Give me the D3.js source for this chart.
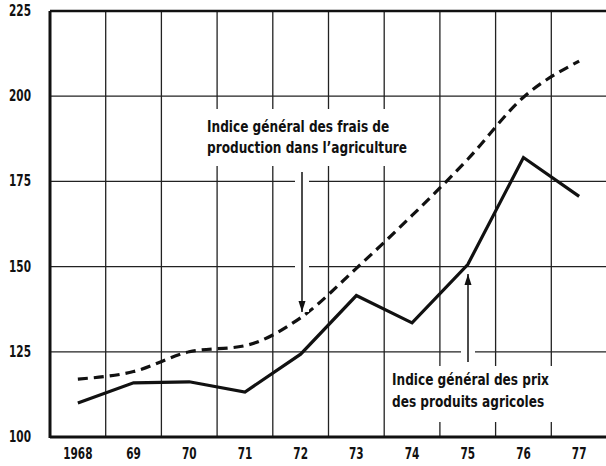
<!DOCTYPE html>
<html>
<head>
<meta charset="utf-8">
<script src="https://cdn.jsdelivr.net/npm/d3@7"></script>
<style>
  body { margin: 0; background: #fff; }
  svg text { font-family: "DejaVu Sans Condensed", "DejaVu Sans", sans-serif; font-weight: bold; fill: #111; }
</style>
</head>
<body>
<svg id="chart" width="606" height="466"></svg>
<script>
// years on the x axis
const years = ["1968", "69", "70", "71", "72", "73", "74", "75", "76", "77"];
// indice general des frais de production (dashed)
const frais = [117, 119.2, 125, 126.8, 135, 149.5, 165, 181.5, 199.7, 210.3];
// indice general des prix des produits agricoles (solid)
const prix = [110, 115.9, 116.2, 113.2, 124.3, 141.5, 133.5, 150.6, 182, 170.6];
const yTicks = [100, 125, 150, 175, 200, 225];

const svg = d3.select("#chart");
const plotL = 50, plotR = 607, plotT = 11, plotB = 437;

const x = d3.scaleBand().domain(years).range([plotL, plotR]).padding(0);
const y = d3.scaleLinear().domain([100, 225]).range([plotB, plotT]);
const cx = d => x(d) + x.bandwidth() / 2;

// grid
const grid = svg.append("g").attr("stroke", "#222").attr("stroke-width", 1.3);
grid.selectAll(".hg").data(yTicks.filter(t => t > 100 && t < 225)).join("line")
  .attr("x1", plotL).attr("x2", plotR).attr("y1", d => y(d)).attr("y2", d => y(d));
grid.selectAll(".vg").data(years.slice(1)).join("line")
  .attr("x1", d => x(d)).attr("x2", d => x(d)).attr("y1", plotT).attr("y2", plotB);

// white patches behind the notes
svg.append("rect").attr("x", 204).attr("y", 109).attr("width", 214).attr("height", 57).attr("fill", "#fff");
svg.append("rect").attr("x", 386).attr("y", 366).attr("width", 172).attr("height", 56).attr("fill", "#fff");

// frame
svg.append("line").attr("x1", plotL).attr("x2", plotR).attr("y1", plotT).attr("y2", plotT)
  .attr("stroke", "#111").attr("stroke-width", 2.5);
svg.append("line").attr("x1", plotL).attr("x2", plotR).attr("y1", plotB).attr("y2", plotB)
  .attr("stroke", "#111").attr("stroke-width", 3);
svg.append("line").attr("x1", plotL).attr("x2", plotL).attr("y1", plotT).attr("y2", plotB + 1)
  .attr("stroke", "#111").attr("stroke-width", 3);

// narrow text helper (the original type is a tall condensed face)
function label(g, tx, ty, str, size, sx, anchor) {
  return g.append("text")
    .attr("transform", `translate(${tx},${ty}) scale(${sx},1)`)
    .attr("text-anchor", anchor || "start")
    .attr("font-size", size)
    .text(str);
}

// axis labels
const ax = svg.append("g");
yTicks.forEach(t => label(ax, 31, y(t) + 5, t, 15, 0.78, "end"));
years.forEach(yr => label(ax, cx(yr), 459, yr, 15, 0.78, "middle"));

// series
svg.append("path").datum(frais)
  .attr("fill", "none").attr("stroke", "#111").attr("stroke-width", 3.2)
  .attr("stroke-dasharray", "10,6")
  .attr("d", d3.line().x((d, i) => cx(years[i])).y(d => y(d)).curve(d3.curveMonotoneX));
svg.append("path").datum(prix)
  .attr("fill", "none").attr("stroke", "#111").attr("stroke-width", 3.2)
  .attr("stroke-linejoin", "miter")
  .attr("d", d3.line().x((d, i) => cx(years[i])).y(d => y(d)));

// arrows
function arrow(xp, y1, y2) {
  svg.append("line").attr("x1", xp).attr("x2", xp).attr("y1", y1).attr("y2", y2)
    .attr("stroke", "#fff").attr("stroke-width", 14);
  svg.append("line").attr("x1", xp).attr("x2", xp).attr("y1", y1).attr("y2", y2)
    .attr("stroke", "#111").attr("stroke-width", 1.5);
  const dir = y2 > y1 ? 1 : -1;
  svg.append("path")
    .attr("d", `M${xp - 3.5},${y2 - dir * 11}L${xp},${y2}L${xp + 3.5},${y2 - dir * 11}Z`)
    .attr("fill", "#111");
}
arrow(302, 172, 312);
arrow(468, 362, 274);

// notes
const note = svg.append("g");
label(note, 207, 132, "Indice général des frais de", 15, 0.9);
label(note, 207, 153, "production dans l\u2019agriculture", 15, 0.9);
label(note, 392, 385, "Indice général des prix", 15, 0.9);
label(note, 392, 407, "des produits agricoles", 15, 0.9);
</script>
</body>
</html>
